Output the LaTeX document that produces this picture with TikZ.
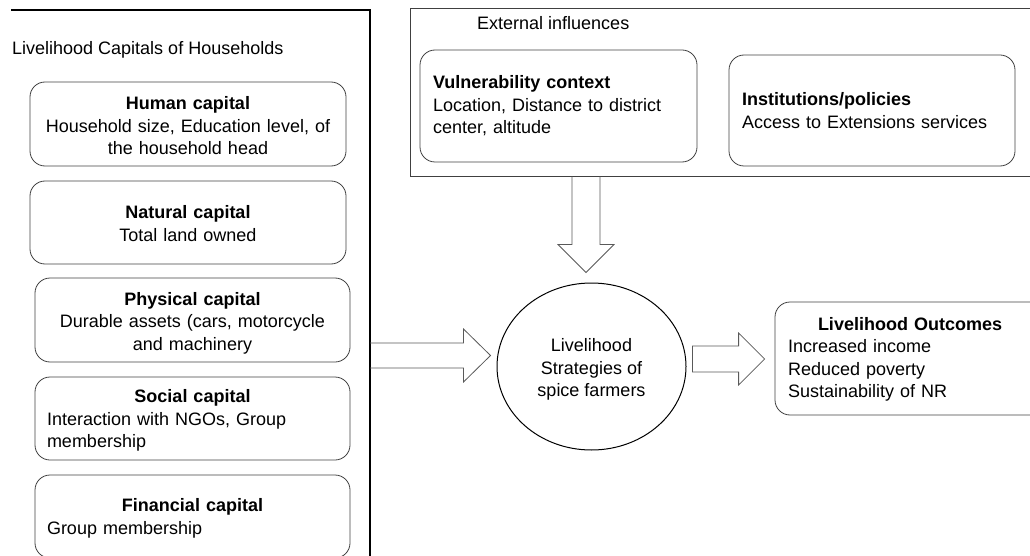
\documentclass[tikz,border=0pt]{standalone}
\usepackage{fontspec}
\setmainfont{Liberation Sans}
\usetikzlibrary{shapes.geometric,calc}
\newcommand{\hblock}[6]{%
  \draw[barrow] ($(#1)+(0,-#3)$) -- ($(#2)+(-#5,-#3)$) -- ($(#2)+(-#5,-#4)$) -- (#2)
    -- ($(#2)+(-#5,#4)$) -- ($(#2)+(-#5,#3)$) -- ($(#1)+(0,#3)$) #6;}
\newcommand{\vblock}[5]{%
  \draw[barrow] ($(#1)+(-#3,0)$) -- ($(#2)+(-#3,-#5)$) -- ($(#2)+(-#4,-#5)$) -- (#2)
    -- ($(#2)+(#4,-#5)$) -- ($(#2)+(#3,-#5)$) -- ($(#1)+(#3,0)$);}
\newcommand{\lift}[1]{\rule{0pt}{#1pt}}
\begin{document}
\begin{tikzpicture}[x=1pt,y=-1pt,
  every node/.style={font=\fontsize{18}{22.5}\selectfont, text=black, inner sep=0pt},
  capbox/.style={draw=black!75, line width=0.8pt, rounded corners=15pt},
  barrow/.style={draw=black!65, line width=0.8pt, line join=miter},
  frame/.style={draw=black, line width=1.2pt}]
\useasboundingbox (0,0) rectangle (1030,556);
\clip (0,0) rectangle (1030,556);

% left frame
\coordinate (ftl) at (11,10);
\coordinate (ftr) at (370,10);
\coordinate (fbr) at (370,570);
\draw[frame] (ftl) -- (ftr) -- (fbr);
\node[anchor=west] (lctitle) at (12,50) {Livelihood Capitals of Households};

% capitals
\node[capbox, minimum width=316pt, minimum height=84pt, text width=300pt, align=center] (human) at (188,124)
  {\lift{17}\textbf{Human capital}\\Household size, Education level, of\\the household head};
\node[capbox, minimum width=316pt, minimum height=83pt, text width=300pt, align=center] (natural) at (188,222.5)
  {\lift{15}\textbf{Natural capital}\\Total land owned};
\node[capbox, minimum width=315pt, minimum height=84pt, text width=300pt, align=center] (physical) at (192.5,320)
  {\lift{19}\textbf{Physical capital}\\Durable assets (cars, motorcycle\\and machinery};
\node[capbox, minimum width=315pt, minimum height=83pt, text width=291pt, align=left] (social) at (192.5,418.5)
  {\makebox[\linewidth]{\lift{17}\textbf{Social capital}}\\Interaction with NGOs, Group\\membership};
\node[capbox, minimum width=315pt, minimum height=83pt, text width=291pt, align=left] (financial) at (192.5,516.5)
  {\makebox[\linewidth]{\lift{17}\textbf{Financial capital}}\\Group membership};

% external influences
\node[draw=black!75, line width=0.9pt, minimum width=640pt, minimum height=168pt] (ext) at (730,92) {};
\node[anchor=west] (extitle) at (477,23) {External influences};
\node[capbox, minimum width=277pt, minimum height=112pt, text width=251pt, align=left] (vuln) at (558.5,106)
  {\textbf{Vulnerability context}\\Location, Distance to district\\center, altitude};
\node[capbox, minimum width=286pt, minimum height=111pt, text width=260pt, align=left] (inst) at (872,110.5)
  {\textbf{Institutions/policies}\\Access to Extensions services};

% strategies
\node[draw=black, line width=1pt, ellipse, minimum width=189pt, minimum height=167pt, align=center] (strat) at (591.5,366.5)
  {\lift{19}Livelihood\\Strategies of\\spice farmers};

% outcomes
\node[capbox, minimum width=270pt, minimum height=113pt, text width=244pt, align=left] (out) at (910,358.5)
  {\makebox[\linewidth]{\lift{15}\textbf{Livelihood Outcomes}}\\Increased income\\Reduced poverty\\Sustainability of NR};

% block arrows
\coordinate (a1t) at ($(strat.west)+(-6,-11)$);
\coordinate (a1s) at (ftr |- a1t);
\hblock{a1s}{a1t}{12.5}{26.5}{27}{}

\coordinate (a2t) at ($(out.west)+(-10,0.5)$);
\coordinate (a2tmp) at ($(strat.east)+(6,0)$);
\coordinate (a2s) at (a2tmp |- a2t);
\hblock{a2s}{a2t}{13}{26}{26}{-- cycle}

\coordinate (a3t) at ($(strat.north)+(-5.5,-10)$);
\coordinate (a3s) at (a3t |- ext.south);
\vblock{a3s}{a3t}{14}{28}{28}
\end{tikzpicture}
\end{document}
